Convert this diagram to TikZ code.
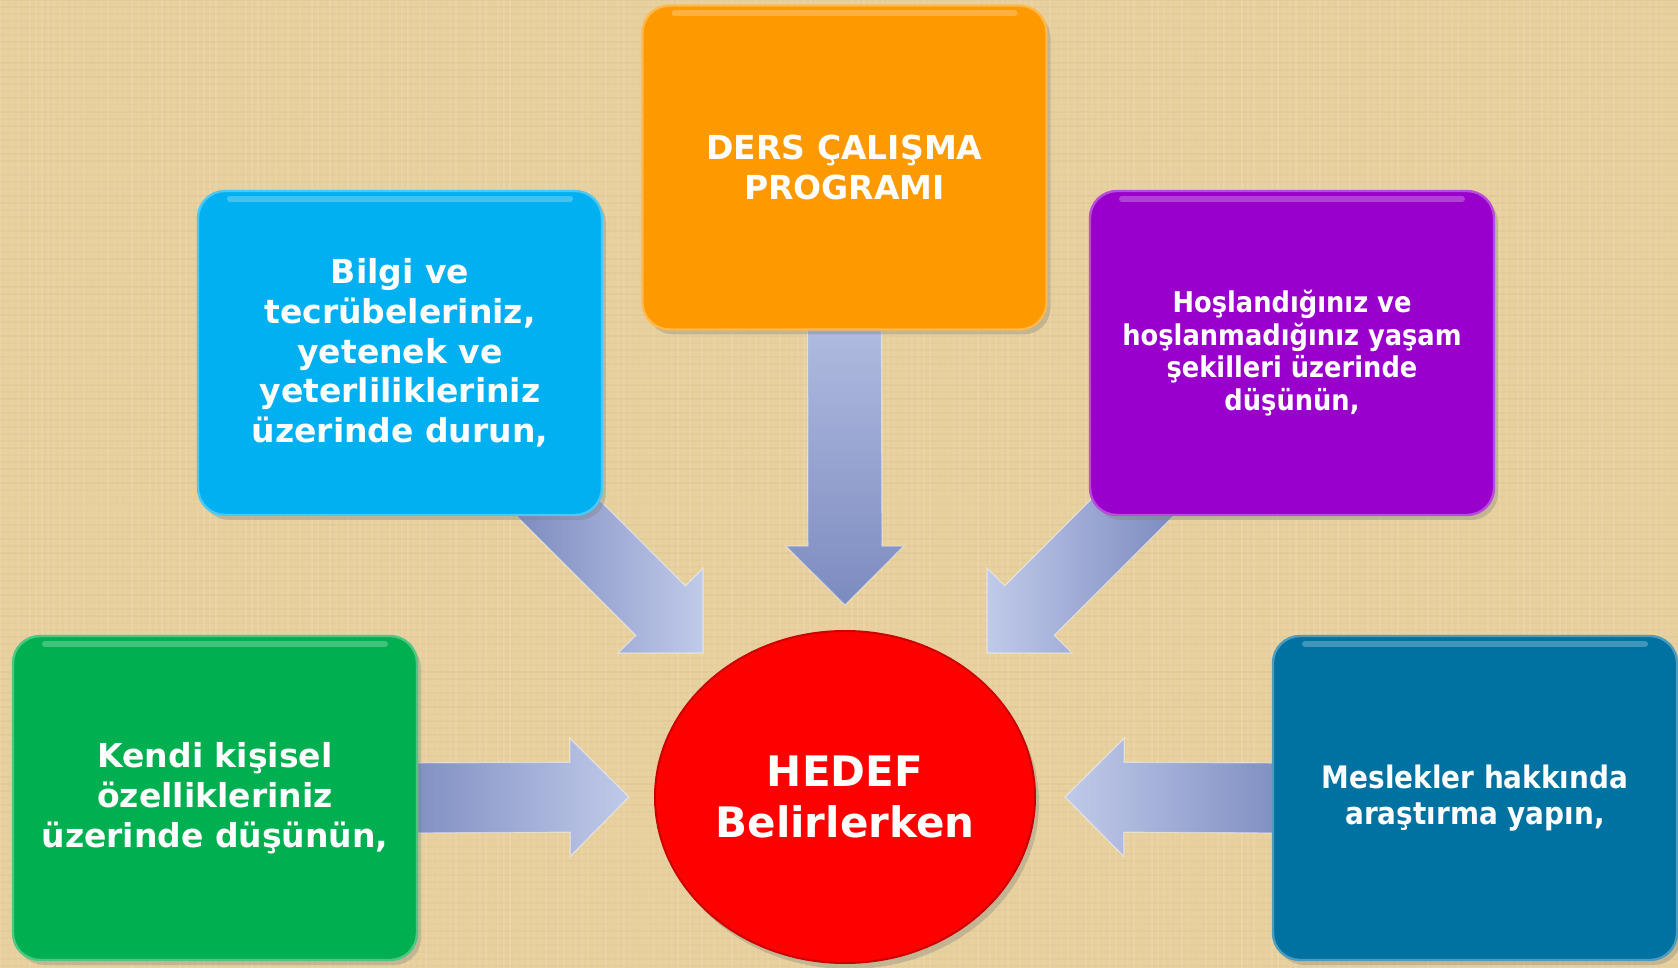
\documentclass[tikz,border=0pt]{standalone}
\usepackage{fontspec}
\setmainfont{DejaVu Sans}
\newfontfamily\condfont{DejaVu Sans}[FakeStretch=0.9]
\usetikzlibrary{calc,shapes.geometric,shadows}
\pgfdeclarelayer{bglayer}
\pgfdeclarelayer{arrowlayer}
\pgfsetlayers{bglayer,arrowlayer,main}
\definecolor{paper}{RGB}{231,208,157}
\definecolor{paperdark}{RGB}{190,158,98}
\definecolor{boxorange}{RGB}{255,153,0}
\definecolor{boxcyan}{RGB}{0,176,240}
\definecolor{boxpurple}{RGB}{153,0,204}
\definecolor{boxgreen}{RGB}{0,176,80}
\definecolor{boxblue}{RGB}{0,114,162}
\definecolor{boxred}{RGB}{255,0,0}
\definecolor{arrdark}{RGB}{124,139,192}
\definecolor{arrlight}{RGB}{192,202,233}
\newcommand\txtbig{\fontsize{16.5}{19.9}\selectfont\bfseries}
\newcommand\txtpurple{\condfont\fontsize{14.3}{16.4}\selectfont\bfseries}
\newcommand\txtblue{\condfont\fontsize{15.5}{17.6}\selectfont\bfseries}
\newcommand\txtred{\fontsize{21}{25.5}\selectfont\bfseries}
\newcommand\blockarr[5]{%
  \coordinate (bh) at ($(#2)!#4!(#1)$);
  \path[#5] ($(#1)!#3!90:(#2)$) -- ($(bh)!#3!90:(#2)$) -- ($(bh)!#4!90:(#2)$)
    -- (#2) -- ($(bh)!#4!-90:(#2)$) -- ($(bh)!#3!-90:(#2)$) -- ($(#1)!#3!-90:(#2)$) -- cycle;}
\tikzset{
  box/.style={rounded corners=13.5pt, minimum width=202pt, minimum height=162pt,
    inner sep=0pt, align=center, text=white, font=\txtbig, line width=1.2pt,
    drop shadow={opacity=0.35, shadow xshift=2pt, shadow yshift=-2.5pt},
    path picture={\draw[white, opacity=0.25, line width=3pt, line cap=round]
      ([xshift=16pt,yshift=-4pt]path picture bounding box.north west) --
      ([xshift=-16pt,yshift=-4pt]path picture bounding box.north east);}},
  goal/.style={ellipse, minimum width=190pt, minimum height=166pt, inner sep=0pt,
    align=center, text=white, font=\txtred, fill=boxred, draw=red!80!black, line width=1pt,
    drop shadow={opacity=0.35, shadow xshift=2pt, shadow yshift=-3pt}},
  blockarrow/.style={draw=white, draw opacity=0.45, line width=0.6pt, line join=miter}
}
\begin{document}
\begin{tikzpicture}[x=0.5pt, y=-0.5pt]
\useasboundingbox (0,0) rectangle (1678,968);
% background
\begin{pgfonlayer}{bglayer}
  \fill[paper] (0,0) rectangle (1678,968);
  \pgfmathsetseed{7}
  \foreach \x in {0,6,...,1678} {
    \pgfmathsetmacro\op{0.03+0.10*rnd}
    \draw[white, opacity=\op, line width=1pt] (\x,0) -- (\x,968);
  }
  \foreach \y in {0,7,...,968} {
    \pgfmathsetmacro\op{0.03+0.08*rnd}
    \draw[paperdark, opacity=\op, line width=1pt] (0,\y) -- (1678,\y);
  }
\end{pgfonlayer}
% nodes
\node[box, fill=boxorange, draw=boxorange!70!white] (prog) at (844.5,167.5) {DERS ÇALIŞMA\\PROGRAMI};
\node[box, fill=boxcyan, draw=boxcyan!70!white] (bilgi) at (400,353) {Bilgi ve\\tecrübeleriniz,\\yetenek ve\\yeterlilikleriniz\\üzerinde durun,};
\node[box, fill=boxpurple, draw=boxpurple!70!white, font=\txtpurple] (hosl) at (1292,353) {Hoşlandığınız ve\\hoşlanmadığınız yaşam\\şekilleri üzerinde\\düşünün,};
\node[box, fill=boxgreen, draw=boxgreen!70!white] (kendi) at (215,798) {Kendi kişisel\\özellikleriniz\\üzerinde düşünün,};
\node[box, fill=boxblue, draw=boxblue!70!white, font=\txtblue] (meslek) at (1475,798) {Meslekler hakkında\\araştırma yapın,};
\node[goal] (hedef) at (845,797) {HEDEF\\Belirlerken};
% arrow end points
\coordinate (sTop) at ($(prog.south)+(0,-20)$);
\coordinate (tTop) at (845,605);
\coordinate (sL) at ($(kendi.east)+(-20,0)$);
\coordinate (tL) at (629,797);
\coordinate (sR) at ($(meslek.west)+(20,0)$);
\coordinate (tR) at (1065,797);
\coordinate (sDL) at (540,490);
\coordinate (tDL) at (703,653);
\coordinate (sDR) at (1150,490);
\coordinate (tDR) at (987,653);
\begin{pgfonlayer}{arrowlayer}
  \blockarr{sTop}{tTop}{18.5pt}{29.5pt}{blockarrow, top color=arrlight!80!arrdark, bottom color=arrdark}
  \blockarr{sL}{tL}{17.5pt}{29.5pt}{blockarrow, left color=arrdark, right color=arrlight}
  \blockarr{sR}{tR}{17.5pt}{29.5pt}{blockarrow, left color=arrlight, right color=arrdark}
  \blockarr{sDL}{tDL}{17.5pt}{30pt}{blockarrow, left color=arrdark, right color=arrlight}
  \blockarr{sDR}{tDR}{17.5pt}{30pt}{blockarrow, left color=arrlight, right color=arrdark}
\end{pgfonlayer}
\end{tikzpicture}
\end{document}
